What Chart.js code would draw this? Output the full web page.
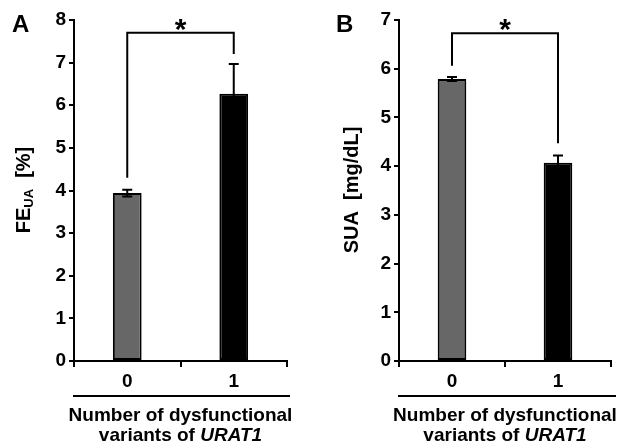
<!DOCTYPE html>
<html>
<head>
<meta charset="utf-8">
<script src="https://cdn.jsdelivr.net/npm/chart.js@4.4.0/dist/chart.umd.min.js"></script>
<style>
  body { margin: 0; background: #fff; }
  .panel { position: absolute; top: 0; width: 311px; height: 446px; }
</style>
</head>
<body>
<div class="panel" style="left:0"><canvas id="chartA" width="311" height="446"></canvas></div>
<div class="panel" style="left:311px"><canvas id="chartB" width="311" height="446"></canvas></div>
<script>
// Datos
const categories = ['0', '1'];
const barColors = ['#676767', '#000000'];

const feuaMeans = [3.94, 6.27];
const feuaErrors = [0.08, 0.70];
const feuaMax = 8;
// [barra horizontal, extremo izquierdo, extremo derecho]
const feuaBracket = [7.7, 4.3, 7.2];

const suaMeans = [5.79, 4.07];
const suaErrors = [0.04, 0.15];
const suaMax = 7;
const suaBracket = [6.73, 6.06, 4.47];

const FONT = "'Liberation Sans', Arial, sans-serif";

// Barras de error, corchete de significancia y textos
const extrasPlugin = {
    id: 'extras',
    afterDatasetsDraw(chart, args, opts) {
        const c = chart.ctx;
        const y = chart.scales.y;
        const meta = chart.getDatasetMeta(0);
        c.save();
        c.strokeStyle = '#000';
        c.lineWidth = 2;
        opts.errors.forEach((err, i) => {
            const x = meta.data[i].x;
            const v = opts.means[i];
            const yTop = y.getPixelForValue(v + err);
            const yBot = y.getPixelForValue(v - err);
            c.beginPath();
            c.moveTo(x, yTop); c.lineTo(x, yBot);
            c.moveTo(x - 5, yTop); c.lineTo(x + 5, yTop);
            c.moveTo(x - 5, yBot); c.lineTo(x + 5, yBot);
            c.stroke();
        });
        c.restore();
    },
    afterDraw(chart, args, opts) {
        const c = chart.ctx;
        const y = chart.scales.y;
        const area = chart.chartArea;
        const meta = chart.getDatasetMeta(0);
        const x0 = meta.data[0].x, x1 = meta.data[1].x;
        c.save();
        c.strokeStyle = '#000';
        c.fillStyle = '#000';
        c.lineWidth = 2;

        // corchete
        const b = opts.bracket;
        const yb = y.getPixelForValue(b[0]);
        c.beginPath();
        c.moveTo(x0, y.getPixelForValue(b[1]));
        c.lineTo(x0, yb);
        c.lineTo(x1, yb);
        c.lineTo(x1, y.getPixelForValue(b[2]));
        c.stroke();

        c.font = 'bold 30px ' + FONT;
        c.textAlign = 'center';
        c.textBaseline = 'alphabetic';
        c.fillText('*', (x0 + x1) / 2, 39);

        // letra del panel
        c.font = 'bold 24px ' + FONT;
        c.textAlign = 'left';
        c.fillText(opts.letter, opts.letterX, 32);

        // línea bajo las categorías
        c.beginPath();
        c.moveTo(area.left - 1, 396);
        c.lineTo(area.right + opts.lineExtra, 396);
        c.stroke();

        // título eje x
        const cx = (area.left + area.right) / 2;
        c.textBaseline = 'middle';
        c.textAlign = 'center';
        c.font = 'bold 19px ' + FONT;
        c.fillText('Number of dysfunctional', cx, 416);
        const p1 = 'variants of ';
        const p2 = 'URAT1';
        c.font = 'bold 19px ' + FONT;
        const w1 = c.measureText(p1).width;
        c.font = 'italic bold 19px ' + FONT;
        const w2 = c.measureText(p2).width;
        c.textAlign = 'left';
        c.font = 'bold 19px ' + FONT;
        c.fillText(p1, cx - (w1 + w2) / 2, 436);
        c.font = 'italic bold 19px ' + FONT;
        c.fillText(p2, cx - (w1 + w2) / 2 + w1, 436);

        // título eje y (rotado, con subíndice)
        c.translate(opts.yTitleX, 190);
        c.rotate(-Math.PI / 2);
        const parts = opts.yTitle;
        let total = 0;
        parts.forEach(p => {
            c.font = 'bold ' + p.size + 'px ' + FONT;
            total += c.measureText(p.text).width;
        });
        let pos = -total / 2;
        parts.forEach(p => {
            c.font = 'bold ' + p.size + 'px ' + FONT;
            c.fillText(p.text, pos, p.dy || 0);
            pos += c.measureText(p.text).width;
        });
        c.restore();
    }
};

function makeChart(id, means, errors, max, bracket, extra) {
    return new Chart(document.getElementById(id), {
        type: 'bar',
        data: {
            labels: categories,
            datasets: [{
                data: means,
                backgroundColor: barColors,
                borderColor: '#000',
                borderWidth: 2,
                borderSkipped: false,
                barPercentage: 0.27,
                categoryPercentage: 1
            }]
        },
        options: {
            responsive: false,
            animation: false,
            layout: { padding: { left: 0, right: extra.padRight, top: 20, bottom: 0 } },
            plugins: {
                legend: { display: false },
                tooltip: { enabled: false },
                extras: {
                    means: means,
                    errors: errors,
                    bracket: bracket,
                    letter: extra.letter,
                    letterX: extra.letterX,
                    lineExtra: extra.lineExtra,
                    yTitle: extra.yTitle,
                    yTitleX: extra.yTitleX
                }
            },
            scales: {
                x: {
                    offset: true,
                    grid: { offset: true, drawOnChartArea: false, color: '#000', lineWidth: 2, tickLength: 6 },
                    border: { color: '#000', width: 2 },
                    ticks: { color: '#000', font: { family: FONT, size: 19, weight: 'bold' }, padding: 3 },
                    afterFit(scale) { scale.height = 85; }
                },
                y: {
                    min: 0,
                    max: max,
                    ticks: { stepSize: 1, color: '#000', font: { family: FONT, size: 19, weight: 'bold' }, padding: 3 },
                    grid: { drawOnChartArea: false, color: '#000', lineWidth: 2, tickLength: 5 },
                    border: { color: '#000', width: 2 },
                    afterFit(scale) { scale.width = extra.axisWidth; }
                }
            }
        },
        plugins: [extrasPlugin]
    });
}

makeChart('chartA', feuaMeans, feuaErrors, feuaMax, feuaBracket, {
    letter: 'A', letterX: 12, padRight: 24, axisWidth: 74, lineExtra: 3, yTitleX: 24,
    yTitle: [{ text: 'FE', size: 20 }, { text: 'UA', size: 13, dy: 5 }, { text: '  [%]', size: 20 }]
});

makeChart('chartB', suaMeans, suaErrors, suaMax, suaBracket, {
    letter: 'B', letterX: 25, padRight: 11, axisWidth: 88, lineExtra: 5, yTitleX: 41,
    yTitle: [{ text: 'SUA  [mg/dL]', size: 20 }]
});
</script>
</body>
</html>
